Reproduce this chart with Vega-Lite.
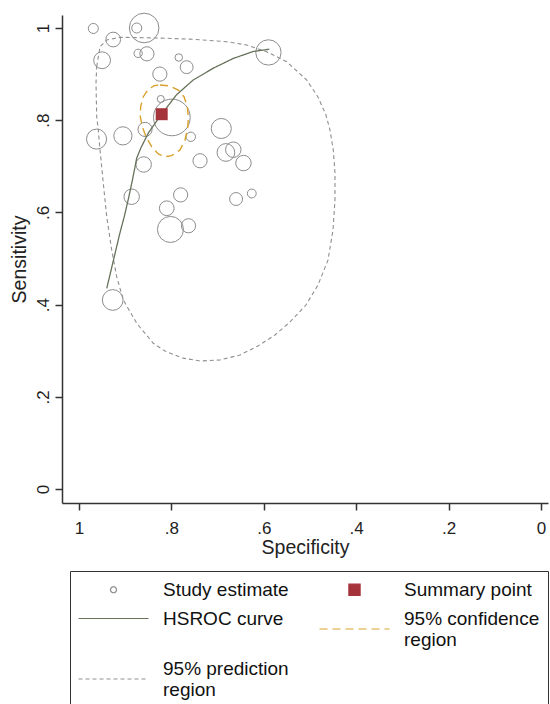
{
  "$schema": "https://vega.github.io/schema/vega-lite/v6.json",
  "width": 486,
  "height": 488,
  "autosize": {"type": "none"},
  "padding": {"left": 62, "top": 15, "right": 2, "bottom": 201},
  "background": "white",
  "config": {
    "view": {"stroke": null},
    "font": "Liberation Sans",
    "axis": {
      "grid": false,
      "domainColor": "#333333",
      "tickColor": "#333333",
      "domainWidth": 1.5,
      "tickWidth": 1.5,
      "tickSize": 7,
      "labelFont": "Liberation Sans",
      "labelFontSize": 17,
      "labelColor": "#222222",
      "titleFont": "Liberation Sans",
      "titleFontSize": 19.5,
      "titleFontWeight": "normal",
      "titleColor": "#222222",
      "labelFlush": false,
      "labelOverlap": false
    },
    "legend": {
      "orient": "none",
      "legendX": 8,
      "legendY": 556,
      "columns": 2,
      "padding": 8,
      "strokeColor": "#333333",
      "fillColor": "white",
      "labelFont": "Liberation Sans",
      "labelFontSize": 19,
      "labelColor": "#111111",
      "labelOffset": 39,
      "symbolOffset": 25,
      "columnPadding": 28,
      "rowPadding": 8,
      "labelLimit": 300,
      "symbolSize": 361,
      "symbolStrokeWidth": 1.2,
      "symbolOpacity": 1
    }
  },
  "datasets": {
    "studies": [
      {"spec": 0.969, "sens": 0.999, "w": 32},
      {"spec": 0.859, "sens": 1.0, "w": 279},
      {"spec": 0.875, "sens": 1.0, "w": 32},
      {"spec": 0.926, "sens": 0.975, "w": 69},
      {"spec": 0.95, "sens": 0.93, "w": 90},
      {"spec": 0.872, "sens": 0.945, "w": 22},
      {"spec": 0.853, "sens": 0.944, "w": 64},
      {"spec": 0.784, "sens": 0.936, "w": 18},
      {"spec": 0.767, "sens": 0.915, "w": 53},
      {"spec": 0.825, "sens": 0.9, "w": 64},
      {"spec": 0.59, "sens": 0.947, "w": 204},
      {"spec": 0.823, "sens": 0.846, "w": 16},
      {"spec": 0.799, "sens": 0.806, "w": 428},
      {"spec": 0.857, "sens": 0.78, "w": 64},
      {"spec": 0.962, "sens": 0.759, "w": 128},
      {"spec": 0.905, "sens": 0.766, "w": 106},
      {"spec": 0.758, "sens": 0.764, "w": 28},
      {"spec": 0.692, "sens": 0.782, "w": 128},
      {"spec": 0.682, "sens": 0.73, "w": 100},
      {"spec": 0.666, "sens": 0.736, "w": 76},
      {"spec": 0.644, "sens": 0.707, "w": 76},
      {"spec": 0.738, "sens": 0.712, "w": 64},
      {"spec": 0.86, "sens": 0.704, "w": 76},
      {"spec": 0.886, "sens": 0.634, "w": 76},
      {"spec": 0.78, "sens": 0.638, "w": 64},
      {"spec": 0.66, "sens": 0.629, "w": 53},
      {"spec": 0.626, "sens": 0.641, "w": 25},
      {"spec": 0.81, "sens": 0.609, "w": 69},
      {"spec": 0.802, "sens": 0.563, "w": 216},
      {"spec": 0.763, "sens": 0.571, "w": 64},
      {"spec": 0.927, "sens": 0.41, "w": 137}
    ],
    "summary": [{"spec": 0.821, "sens": 0.813}],
    "curve": [
      {"i": 1, "spec": 0.588, "sens": 0.954},
      {"i": 2, "spec": 0.623, "sens": 0.949},
      {"i": 3, "spec": 0.666, "sens": 0.934},
      {"i": 4, "spec": 0.709, "sens": 0.913},
      {"i": 5, "spec": 0.753, "sens": 0.887},
      {"i": 6, "spec": 0.789, "sens": 0.855},
      {"i": 7, "spec": 0.825, "sens": 0.808},
      {"i": 8, "spec": 0.85, "sens": 0.772},
      {"i": 9, "spec": 0.866, "sens": 0.74},
      {"i": 10, "spec": 0.875, "sens": 0.718},
      {"i": 11, "spec": 0.884, "sens": 0.672},
      {"i": 12, "spec": 0.892, "sens": 0.634},
      {"i": 13, "spec": 0.902, "sens": 0.591},
      {"i": 14, "spec": 0.912, "sens": 0.553},
      {"i": 15, "spec": 0.921, "sens": 0.515},
      {"i": 16, "spec": 0.93, "sens": 0.477},
      {"i": 17, "spec": 0.94, "sens": 0.435}
    ],
    "conf": [
      {"i": 1, "spec": 0.8247, "sens": 0.8764},
      {"i": 2, "spec": 0.803, "sens": 0.8742},
      {"i": 3, "spec": 0.7851, "sens": 0.8655},
      {"i": 4, "spec": 0.7727, "sens": 0.851},
      {"i": 5, "spec": 0.7655, "sens": 0.8293},
      {"i": 6, "spec": 0.7634, "sens": 0.8076},
      {"i": 7, "spec": 0.7647, "sens": 0.7824},
      {"i": 8, "spec": 0.7706, "sens": 0.757},
      {"i": 9, "spec": 0.7814, "sens": 0.7354},
      {"i": 10, "spec": 0.7994, "sens": 0.723},
      {"i": 11, "spec": 0.8139, "sens": 0.7208},
      {"i": 12, "spec": 0.8283, "sens": 0.7267},
      {"i": 13, "spec": 0.8427, "sens": 0.7425},
      {"i": 14, "spec": 0.855, "sens": 0.7642},
      {"i": 15, "spec": 0.8629, "sens": 0.7859},
      {"i": 16, "spec": 0.8673, "sens": 0.8076},
      {"i": 17, "spec": 0.8665, "sens": 0.8293},
      {"i": 18, "spec": 0.8608, "sens": 0.851},
      {"i": 19, "spec": 0.85, "sens": 0.867},
      {"i": 20, "spec": 0.837, "sens": 0.8749},
      {"i": 21, "spec": 0.8247, "sens": 0.8764}
    ],
    "pred": [
      {"i": 1, "spec": 0.9617, "sens": 0.9161},
      {"i": 2, "spec": 0.9545, "sens": 0.9594},
      {"i": 3, "spec": 0.94, "sens": 0.974},
      {"i": 4, "spec": 0.9113, "sens": 0.9798},
      {"i": 5, "spec": 0.8608, "sens": 0.979},
      {"i": 6, "spec": 0.8102, "sens": 0.9777},
      {"i": 7, "spec": 0.7526, "sens": 0.9755},
      {"i": 8, "spec": 0.6803, "sens": 0.9703},
      {"i": 9, "spec": 0.637, "sens": 0.9631},
      {"i": 10, "spec": 0.5937, "sens": 0.9486},
      {"i": 11, "spec": 0.5504, "sens": 0.9269},
      {"i": 12, "spec": 0.5071, "sens": 0.8872},
      {"i": 13, "spec": 0.4827, "sens": 0.8503},
      {"i": 14, "spec": 0.4654, "sens": 0.8113},
      {"i": 15, "spec": 0.4567, "sens": 0.7787},
      {"i": 16, "spec": 0.4496, "sens": 0.7354},
      {"i": 17, "spec": 0.4459, "sens": 0.6855},
      {"i": 18, "spec": 0.4459, "sens": 0.6269},
      {"i": 19, "spec": 0.4502, "sens": 0.5618},
      {"i": 20, "spec": 0.461, "sens": 0.4967},
      {"i": 21, "spec": 0.4827, "sens": 0.4425},
      {"i": 22, "spec": 0.5087, "sens": 0.3991},
      {"i": 23, "spec": 0.5433, "sens": 0.3623},
      {"i": 24, "spec": 0.5758, "sens": 0.3341},
      {"i": 25, "spec": 0.6126, "sens": 0.3102},
      {"i": 26, "spec": 0.6515, "sens": 0.2907},
      {"i": 27, "spec": 0.6948, "sens": 0.2798},
      {"i": 28, "spec": 0.7381, "sens": 0.2777},
      {"i": 29, "spec": 0.7771, "sens": 0.2842},
      {"i": 30, "spec": 0.8139, "sens": 0.2993},
      {"i": 31, "spec": 0.8392, "sens": 0.3161},
      {"i": 32, "spec": 0.8751, "sens": 0.3594},
      {"i": 33, "spec": 0.9041, "sens": 0.41},
      {"i": 34, "spec": 0.9184, "sens": 0.4605},
      {"i": 35, "spec": 0.9292, "sens": 0.5184},
      {"i": 36, "spec": 0.94, "sens": 0.5907},
      {"i": 37, "spec": 0.9474, "sens": 0.6631},
      {"i": 38, "spec": 0.9545, "sens": 0.7354},
      {"i": 39, "spec": 0.9582, "sens": 0.7787},
      {"i": 40, "spec": 0.9617, "sens": 0.8076},
      {"i": 41, "spec": 0.9632, "sens": 0.88},
      {"i": 42, "spec": 0.9617, "sens": 0.9161}
    ]
  },
  "encoding": {
    "x": {
      "field": "spec",
      "type": "quantitative",
      "scale": {"domain": [-0.0152, 1.0368], "reverse": true, "nice": false, "zero": false},
      "axis": {
        "title": "Specificity",
        "values": [0, 0.2, 0.4, 0.6, 0.8, 1],
        "labelExpr": "datum.value == 0 ? '0' : datum.value == 1 ? '1' : '.' + round(datum.value * 10)",
        "labelPadding": 10,
        "titlePadding": 2
      }
    },
    "y": {
      "field": "sens",
      "type": "quantitative",
      "scale": {"domain": [-0.0304, 1.0282], "nice": false, "zero": false},
      "axis": {
        "title": "Sensitivity",
        "values": [0, 0.2, 0.4, 0.6, 0.8, 1],
        "labelExpr": "datum.value == 0 ? '0' : datum.value == 1 ? '1' : '.' + round(datum.value * 10)",
        "labelAngle": 270,
        "labelAlign": "center",
        "labelBaseline": "bottom",
        "labelPadding": 3,
        "titlePadding": 5
      }
    }
  },
  "layer": [
    {
      "data": {"name": "studies"},
      "mark": {"type": "point", "shape": "circle", "filled": false, "opacity": 1, "strokeWidth": 1},
      "encoding": {
        "size": {"field": "w", "type": "quantitative", "scale": {"domain": [0, 430], "range": [0, 1351]}, "legend": null},
        "color": {
          "datum": "Study estimate",
          "type": "nominal",
          "scale": {
            "domain": ["Study estimate", "HSROC curve", "95% prediction region", "Summary point", "95% confidence region"],
            "range": ["#8c8c8c", "#66735a", "#8f8f8f", "#a5333c", "#d9a12b"]
          },
          "legend": {
            "title": null,
            "labelExpr": "datum.label == '95% confidence region' ? ['95% confidence', 'region'] : datum.label == '95% prediction region' ? ['95% prediction', 'region'] : datum.label"
          }
        }
      }
    },
    {
      "data": {"name": "pred"},
      "mark": {"type": "line", "strokeWidth": 1.1},
      "encoding": {
        "order": {"field": "i", "type": "quantitative"},
        "color": {"datum": "95% prediction region", "type": "nominal"},
        "strokeDash": {
          "datum": "95% prediction region",
          "type": "nominal",
          "scale": {
            "domain": ["Study estimate", "HSROC curve", "95% prediction region", "Summary point", "95% confidence region"],
            "range": [[1, 0], [1, 0], [4, 3], [1, 0], [8, 5]]
          },
          "legend": {
            "title": null,
            "labelExpr": "datum.label == '95% confidence region' ? ['95% confidence', 'region'] : datum.label == '95% prediction region' ? ['95% prediction', 'region'] : datum.label"
          }
        }
      }
    },
    {
      "data": {"name": "conf"},
      "mark": {"type": "line", "strokeWidth": 1.4},
      "encoding": {
        "order": {"field": "i", "type": "quantitative"},
        "color": {"datum": "95% confidence region", "type": "nominal"},
        "strokeDash": {"datum": "95% confidence region", "type": "nominal"}
      }
    },
    {
      "data": {"name": "curve"},
      "mark": {"type": "line", "strokeWidth": 1.3},
      "encoding": {
        "order": {"field": "i", "type": "quantitative"},
        "color": {"datum": "HSROC curve", "type": "nominal"},
        "strokeDash": {"datum": "HSROC curve", "type": "nominal"}
      }
    },
    {
      "data": {"name": "summary"},
      "mark": {"type": "point", "filled": true, "opacity": 1, "size": 413},
      "encoding": {
        "color": {"datum": "Summary point", "type": "nominal"},
        "shape": {
          "datum": "Summary point",
          "type": "nominal",
          "scale": {
            "domain": ["Study estimate", "HSROC curve", "95% prediction region", "Summary point", "95% confidence region"],
            "range": [
              "M-3.684,0M3.684,0M-0.316,0A0.316,0.316,0,1,0,0.316,0A0.316,0.316,0,1,0,-0.316,0A0.316,0.316,0,1,1,0.316,0A0.316,0.316,0,1,1,-0.316,0",
              "M-3.684,0H3.684",
              "M-3.684,1.105H3.684",
              "M-3.684,0M3.684,0M-0.59,-0.59H0.59V0.59H-0.59Z",
              "M-3.684,1.105H3.684"
            ]
          },
          "legend": {
            "title": null,
            "labelExpr": "datum.label == '95% confidence region' ? ['95% confidence', 'region'] : datum.label == '95% prediction region' ? ['95% prediction', 'region'] : datum.label"
          }
        }
      }
    }
  ]
}
